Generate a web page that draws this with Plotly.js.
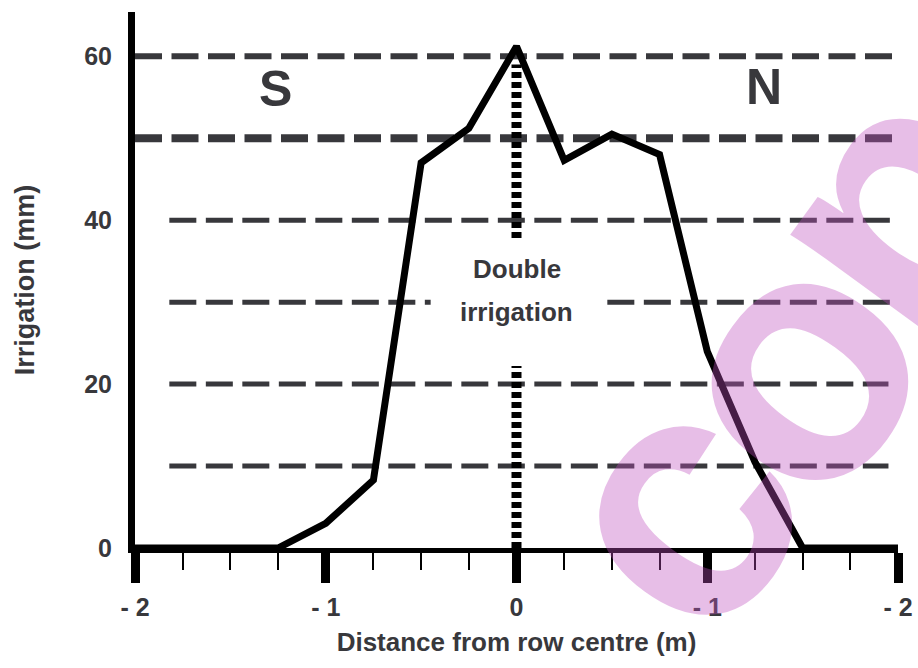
<!DOCTYPE html>
<html>
<head>
<meta charset="utf-8">
<script src="https://cdn.plot.ly/plotly-3.0.1.min.js"></script>
<style>
  html, body { margin: 0; padding: 0; background: #ffffff; }
  #chart { width: 918px; height: 668px; }
</style>
</head>
<body>
<div id="chart"></div>
<script>
// ---- data ----
const distance   = [-2, -1.25, -1.0, -0.75, -0.5, -0.25, 0, 0.25, 0.5, 0.75, 1.0, 1.25, 1.5, 2];
const irrigation = [0, 0, 3.0, 8.3, 47.0, 51.2, 61.2, 47.3, 50.5, 48.0, 24.0, 10.5, 0, 0];
const xTickVals  = [-2, -1, 0, 1, 2];
const xTickText  = ['- 2', '- 1', '0', '- 1', '- 2'];
const yTickVals  = [0, 20, 40, 60];
const refLevels  = [60, 50, 40, 30, 20, 10];
const sideLabels = ['S', 'N'];
const centreLabel = ['Double', 'irrigation'];
const watermarkLetters = ['c', 'o', 'p'];

// ---- styles ----
const ink = '#38383c';
const FONT = 'Liberation Sans, Arial, Helvetica, sans-serif';
const gridStyle = [
  {x0: -2,    x1: 1.98, w: 6},
  {x0: -2,    x1: 1.98, w: 8},
  {x0: -1.82, x1: 2.0,  w: 5},
  {x0: -1.82, x1: 1.98, w: 5},
  {x0: -1.82, x1: 1.95, w: 5},
  {x0: -1.82, x1: 1.95, w: 5}
];
const watermarkPos = [
  {x: 0.7012, y: 0.0765},
  {x: 0.8540, y: 0.340},
  {x: 0.9921, y: 0.640}
];

const shapes = [];
refLevels.forEach((lv, i) => {
  shapes.push({
    type: 'line', xref: 'x', yref: 'y', layer: 'between',
    x0: gridStyle[i].x0, x1: gridStyle[i].x1, y0: lv, y1: lv,
    line: {color: ink, width: gridStyle[i].w, dash: '27px,9.5px'}
  });
});
// dotted centre line
shapes.push({
  type: 'line', xref: 'x', yref: 'y', layer: 'between',
  x0: 0, x1: 0, y0: 0, y1: 59,
  line: {color: '#000', width: 10, dash: '6px,4px'}
});
// white label box
shapes.push({
  type: 'rect', xref: 'x', yref: 'y', layer: 'between',
  x0: -0.45, x1: 0.45, y0: 22.2, y1: 37.6,
  fillcolor: '#ffffff', line: {width: 0}
});

const annotations = [
  {text: sideLabels[0], x: -1.263, y: 56.0, xref: 'x', yref: 'y', showarrow: false,
   font: {family: FONT, size: 50, color: ink, weight: 'bold'}},
  {text: sideLabels[1], x: 1.30, y: 56.2, xref: 'x', yref: 'y', showarrow: false,
   font: {family: FONT, size: 50, color: ink, weight: 'bold'}},
  {text: centreLabel[0], x: 0, y: 34.1, xref: 'x', yref: 'y', showarrow: false,
   font: {family: FONT, size: 26, color: ink, weight: 'bold'}},
  {text: centreLabel[1], x: 0, y: 28.8, xref: 'x', yref: 'y', showarrow: false,
   font: {family: FONT, size: 26, color: ink, weight: 'bold'}}
];
// watermark letters
watermarkLetters.forEach((ch, i) => {
  annotations.push({
    text: ch, x: watermarkPos[i].x, y: watermarkPos[i].y, xref: 'paper', yref: 'paper',
    showarrow: false, textangle: -54, xanchor: 'center', yanchor: 'middle',
    font: {family: FONT, size: 350, color: 'rgba(190,80,190,0.37)', weight: 'bold'}
  });
});

const trace = {
  x: distance, y: irrigation, type: 'scatter', mode: 'lines',
  line: {color: '#000', width: 7}, hoverinfo: 'skip'
};

const layout = {
  width: 918, height: 668,
  margin: {l: 135, r: 20, t: 12, b: 120},
  paper_bgcolor: '#ffffff', plot_bgcolor: '#ffffff',
  showlegend: false,
  font: {family: FONT, color: ink},
  xaxis: {
    range: [-2, 2], showgrid: false, zeroline: false,
    showline: true, linecolor: '#000', linewidth: 5,
    tickvals: xTickVals, ticktext: xTickText,
    ticks: 'outside', ticklen: 30, tickwidth: 9, tickcolor: '#000',
    minor: {dtick: 0.25, tick0: 0, ticks: 'outside', ticklen: 17, tickwidth: 2, tickcolor: '#000', showgrid: false},
    ticklabelstandoff: 3,
    tickfont: {family: FONT, size: 25, color: ink, weight: 'bold'},
    title: {text: 'Distance from row centre (m)', standoff: 14,
            font: {family: FONT, size: 26, color: ink, weight: 'bold'}},
    fixedrange: true
  },
  yaxis: {
    range: [0, 65.4], showgrid: false, zeroline: false,
    showline: true, linecolor: '#000', linewidth: 7,
    tickvals: yTickVals, ticks: '',
    ticklabelstandoff: 11,
    tickfont: {family: FONT, size: 25, color: ink, weight: 'bold'},
    title: {text: 'Irrigation (mm)', standoff: 44,
            font: {family: FONT, size: 27, color: ink, weight: 'bold'}},
    fixedrange: true
  },
  shapes: shapes,
  annotations: annotations
};

Plotly.newPlot('chart', [trace], layout, {displayModeBar: false, staticPlot: true});
</script>
</body>
</html>
